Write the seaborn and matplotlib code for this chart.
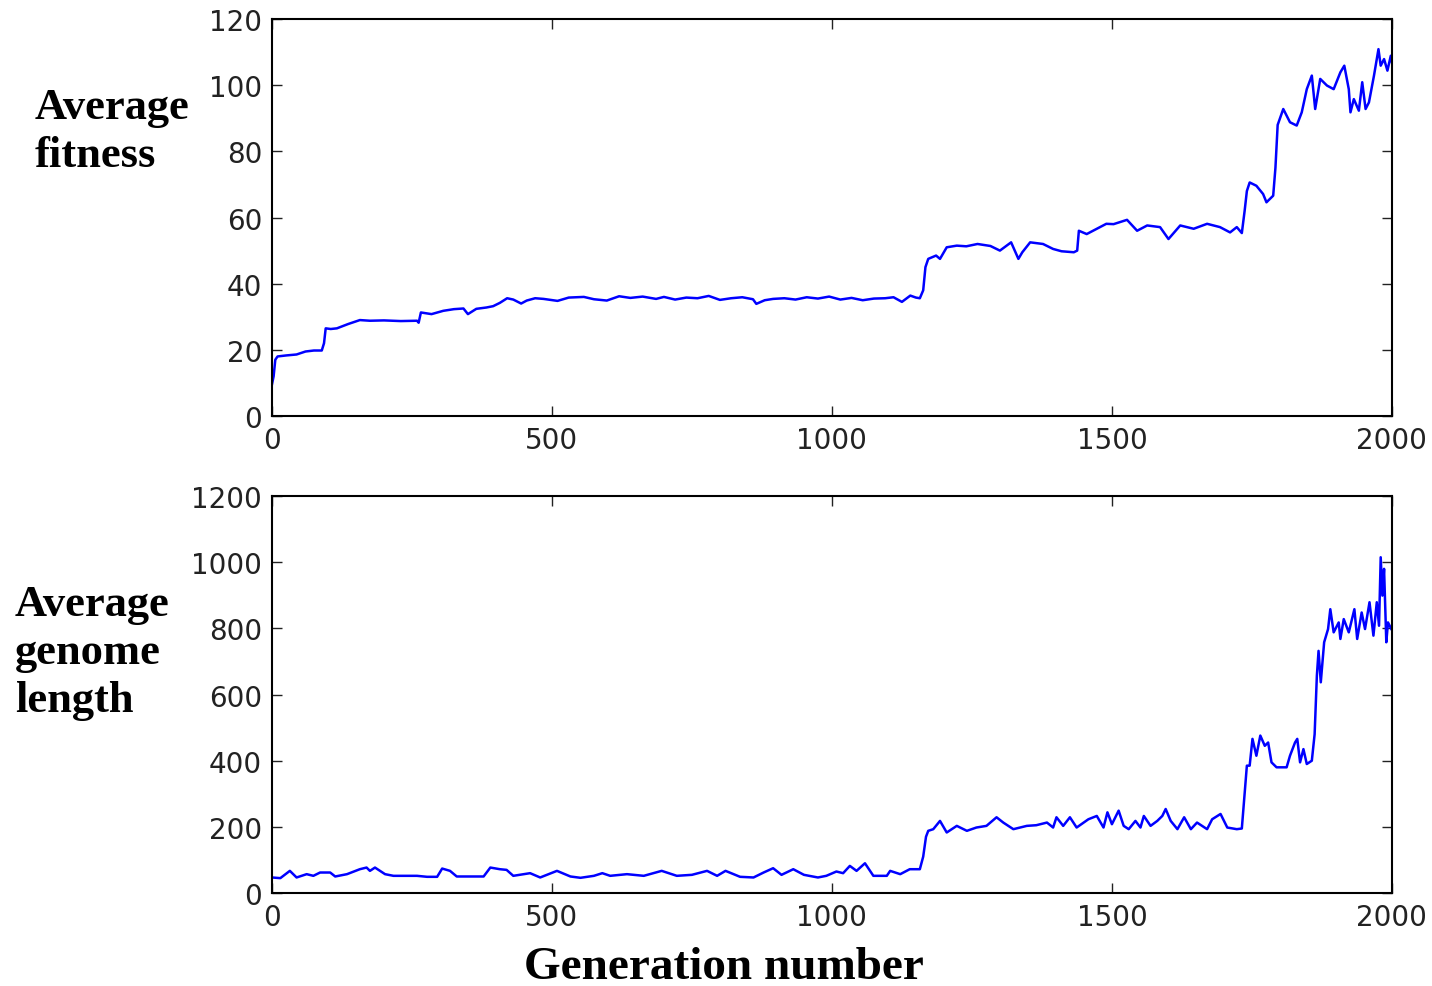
import matplotlib
matplotlib.use("Agg")
import matplotlib.pyplot as plt
import seaborn as sns
import pandas as pd

# ---- data ----
fit_gen = [0, 3, 6, 10, 25, 44, 60, 75, 89, 93, 96, 105, 116, 136, 157, 175, 200, 230, 259, 262,
           266, 285, 306, 325, 342, 350, 365, 383, 395, 407, 420, 431, 445, 455, 470, 485, 510, 530,
           557, 575, 598, 620, 640, 662, 686, 700, 720, 740, 760, 780, 800, 820, 840, 859, 865, 880,
           895, 915, 935, 955, 975, 995, 1015, 1035, 1055, 1075, 1095, 1110, 1125, 1140, 1150, 1157,
           1163, 1167, 1172, 1186, 1193, 1205, 1223, 1240, 1260, 1283, 1300, 1312, 1320, 1333, 1340,
           1354, 1377, 1395, 1410, 1432, 1438, 1441, 1455, 1473, 1490, 1503, 1527, 1545, 1563, 1586,
           1601, 1622, 1646, 1670, 1693, 1711, 1723, 1732, 1737, 1741, 1746, 1758, 1770, 1776, 1788,
           1792, 1796, 1806, 1818, 1830, 1839, 1848, 1857, 1863, 1872, 1884, 1896, 1908, 1915, 1923,
           1926, 1932, 1941, 1947, 1953, 1959, 1968, 1976, 1980, 1986, 1992, 1998, 2000]
fit_val = [9.5, 12, 17, 18, 18.3, 18.6, 19.5, 19.8, 19.8, 22, 26.5, 26.3, 26.5, 27.8, 29.0, 28.8,
           28.9, 28.7, 28.8, 28.2, 31.3, 30.8, 31.8, 32.3, 32.5, 30.8, 32.4, 32.8, 33.2, 34.2, 35.6,
           35.2, 34.0, 34.9, 35.6, 35.4, 34.8, 35.8, 36.0, 35.3, 34.9, 36.2, 35.7, 36.1, 35.4, 36.0,
           35.2, 35.8, 35.6, 36.3, 35.1, 35.6, 35.9, 35.3, 33.9, 35.0, 35.4, 35.6, 35.2, 35.9, 35.5,
           36.1, 35.2, 35.7, 35.0, 35.5, 35.6, 35.9, 34.5, 36.4, 35.8, 35.6, 38, 45, 47.5, 48.5, 47.5,
           51.0, 51.5, 51.3, 52.0, 51.4, 50.0, 51.5, 52.5, 47.5, 49.5, 52.5, 52.0, 50.5, 49.8, 49.5,
           50, 56.0, 55.0, 56.6, 58.1, 58.0, 59.3, 56.0, 57.6, 57.1, 53.5, 57.6, 56.6, 58.1, 57.1,
           55.5, 57.1, 55.3, 62, 68, 70.6, 69.6, 67.1, 64.6, 66.6, 75, 88, 92.8, 88.8, 87.8, 91.8,
           98.8, 102.9, 92.8, 101.9, 99.9, 98.8, 103.9, 105.9, 98.8, 91.8, 95.8, 92.3, 100.9, 92.8,
           94.8, 102.9, 110.9, 105.9, 107.9, 104.4, 108.9, 107]

len_gen = [0, 15, 32, 44, 62, 74, 86, 104, 113, 134, 157, 169, 175, 184, 202, 217, 259, 277, 295,
           304, 318, 330, 378, 390, 407, 419, 431, 461, 479, 509, 533, 551, 575, 590, 604, 634, 664,
           696, 723, 750, 777, 795, 810, 836, 860, 878, 895, 910, 931, 950, 975, 990, 1008, 1020,
           1032, 1044, 1059, 1074, 1098, 1104, 1122, 1139, 1157, 1163, 1168, 1172, 1181, 1193, 1205,
           1223, 1241, 1258, 1276, 1294, 1306, 1324, 1348, 1365, 1384, 1395, 1401, 1413, 1425, 1437,
           1458, 1473, 1485, 1492, 1500, 1512, 1521, 1530, 1542, 1551, 1557, 1569, 1581, 1590, 1596,
           1605, 1617, 1629, 1641, 1652, 1670, 1679, 1694, 1706, 1723, 1732, 1737, 1741, 1746, 1751,
           1758, 1765, 1773, 1779, 1785, 1794, 1812, 1818, 1827, 1831, 1836, 1842, 1848, 1857, 1862,
           1866, 1869, 1873, 1879, 1886, 1890, 1896, 1905, 1908, 1914, 1923, 1933, 1938, 1946, 1952,
           1960, 1967, 1973, 1977, 1980, 1983, 1986, 1990, 1993, 1999]
len_val = [47, 45, 67, 47, 57, 52, 62, 62, 50, 57, 72, 77, 67, 77, 57, 52, 52, 49, 49, 74, 67, 50,
           50, 77, 72, 70, 52, 60, 47, 67, 50, 46, 52, 60, 52, 57, 52, 67, 52, 55, 67, 52, 67, 49, 47,
           62, 75, 55, 72, 55, 47, 52, 65, 60, 82, 67, 90, 52, 52, 67, 57, 72, 72, 110, 170, 188, 193,
           218, 183, 203, 188, 198, 203, 229, 213, 193, 203, 205, 213, 198, 229, 203, 229, 198, 223,
           233, 198, 244, 208, 249, 203, 193, 218, 198, 233, 203, 218, 233, 254, 218, 193, 229, 193,
           213, 193, 223, 239, 198, 193, 195, 300, 385, 385, 466, 415, 476, 445, 455, 395, 380, 380,
           415, 455, 466, 395, 435, 390, 400, 480, 657, 732, 637, 758, 798, 858, 788, 818, 768, 828,
           788, 858, 768, 848, 798, 879, 778, 879, 808, 1015, 899, 980, 758, 818, 798]

x_ticks = [0, 500, 1000, 1500, 2000]
fit_ticks = [0, 20, 40, 60, 80, 100, 120]
len_ticks = [0, 200, 400, 600, 800, 1000, 1200]

fit_df = pd.DataFrame({"gen": fit_gen, "val": fit_val})
len_df = pd.DataFrame({"gen": len_gen, "val": len_val})

plt.rcParams["font.family"] = ["DejaVu Sans"]

fig = plt.figure(figsize=(14.32, 9.87), dpi=100)
ax1 = fig.add_axes([0.1899, 0.5775, 0.7821, 0.4022])
ax2 = fig.add_axes([0.1899, 0.0942, 0.7821, 0.4022])

for ax, df, yt in [(ax1, fit_df, fit_ticks), (ax2, len_df, len_ticks)]:
    sns.lineplot(data=df, x="gen", y="val", ax=ax, color="#0000ff", linewidth=1.8)
    ax.set_xlim(0, 2000)
    ax.set_ylim(yt[0], yt[-1])
    ax.set_xticks(x_ticks)
    ax.set_yticks(yt)
    ax.set_xlabel("")
    ax.set_ylabel("")
    ax.tick_params(direction="in", length=7, width=1, top=True, right=True,
                   labelsize=20, pad=7, colors="#222222")
    for s in ax.spines.values():
        s.set_linewidth(1.5)
        s.set_color("black")

serif = dict(family=["Liberation Serif", "DejaVu Serif"], weight="bold")
fig.text(35 / 1432, 1 - 132 / 987, "Average\nfitness", ha="left", va="center",
         fontsize=32, linespacing=1.25, **serif)
fig.text(15 / 1432, 1 - 653 / 987, "Average\ngenome\nlength", ha="left", va="center",
         fontsize=32, linespacing=1.25, **serif)
fig.text(724 / 1432, 1 - 968 / 987, "Generation number", ha="center", va="center",
         fontsize=34, **serif)

fig.savefig("out.png", dpi=100)
